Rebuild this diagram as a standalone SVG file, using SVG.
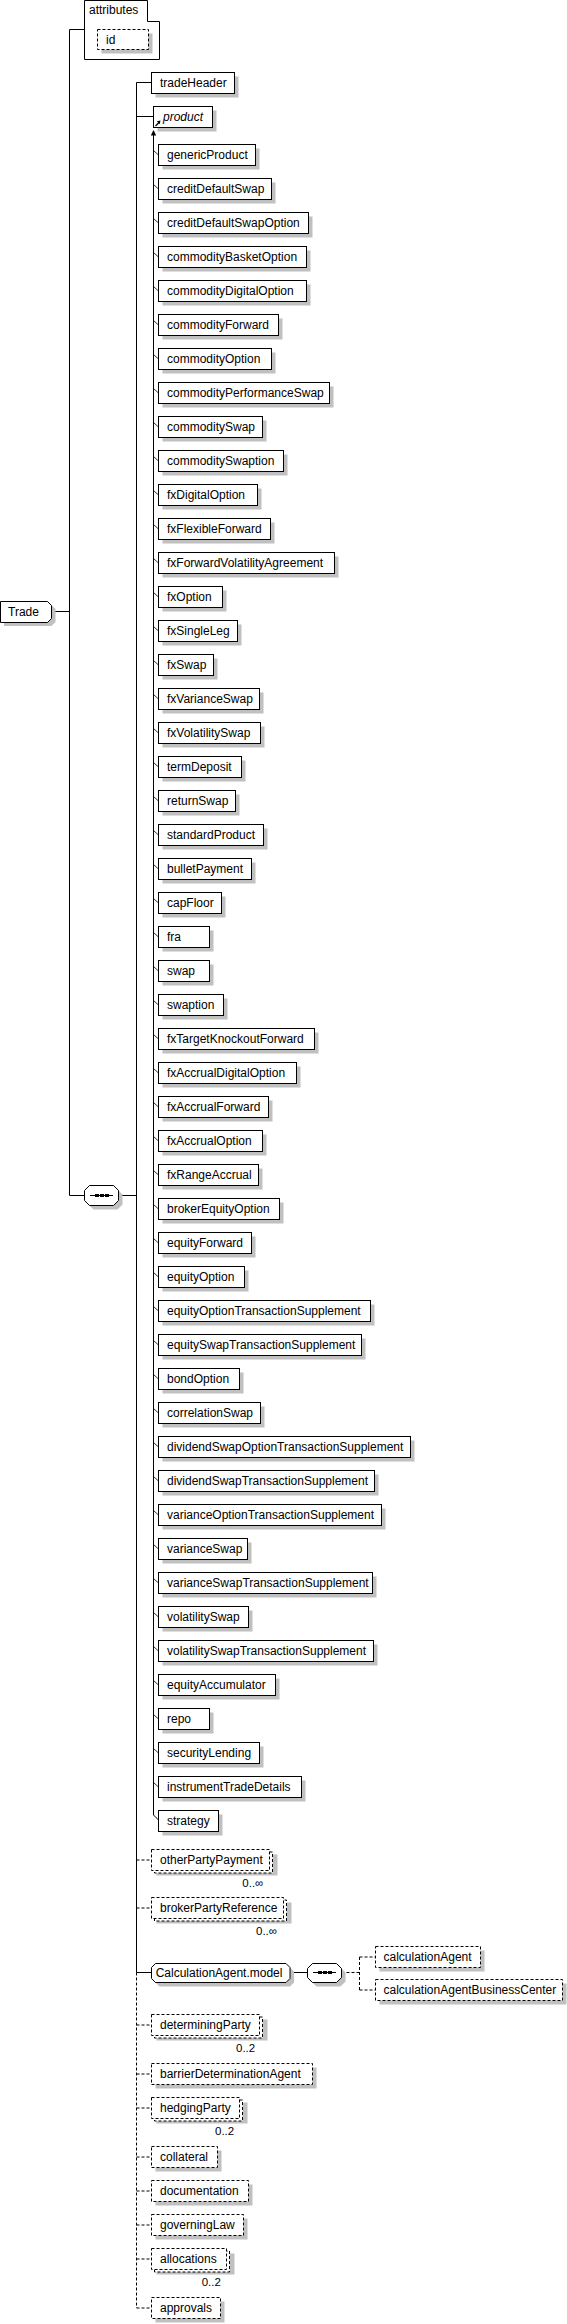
<svg xmlns="http://www.w3.org/2000/svg" width="567" height="2324" viewBox="0 0 567 2324">
<style>
.sh{fill:#c0c0c0;stroke:none}
.bx{fill:#fff;stroke:#000;stroke-width:1}
.op{fill:#fff;stroke:#000;stroke-width:1;stroke-dasharray:3,2}
.t{font-family:"Liberation Sans",Arial,sans-serif;font-size:12px;fill:#000}
.m{font-family:"Liberation Sans",Arial,sans-serif;font-size:11.5px;fill:#000}
.ln{fill:none;stroke:#000;stroke-width:1}
.dl{fill:none;stroke:#000;stroke-width:1;stroke-dasharray:3,2}
.tk{fill:none;stroke:#000;stroke-width:0.8}
</style>
<g id="connectors">
<path class="ln" d="M51.5,611.5 H69.5 M69.5,29.5 V1195.5 M69.5,29.5 H84.5 M69.5,1195.5 H84.5 M118.5,1195.5 H136.5"/>
<path class="ln" d="M136.5,82.5 V1972.5 M136.5,82.5 H151.5 M136.5,116.5 H153.5 M136.5,1972.5 H151.5 M290,1972.5 H307.5"/>
<path class="dl" d="M136.5,1972.5 V2308 M136.5,1860 H151.5 M136.5,1908 H151.5 M136.5,2025 H151.5 M136.5,2074 H151.5 M136.5,2108 H151.5 M136.5,2157 H151.5 M136.5,2191 H151.5 M136.5,2225 H151.5 M136.5,2259 H151.5 M136.5,2308 H151.5"/>
<path class="dl" d="M341.5,1972.5 H359.5 M359.5,1957 V1990 M359.5,1957 H375.5 M359.5,1990 H375.5"/>
<path class="ln" d="M153.5,133 V1815 L158.5,1820"/>
<polygon points="153.5,130 150.8,135.5 156.2,135.5" fill="#000"/>
<path class="tk" d="M153.5,150.5 l5,4.5 M153.5,184.5 l5,4.5 M153.5,218.5 l5,4.5 M153.5,252.5 l5,4.5 M153.5,286.5 l5,4.5 M153.5,320.5 l5,4.5 M153.5,354.5 l5,4.5 M153.5,388.5 l5,4.5 M153.5,422.5 l5,4.5 M153.5,456.5 l5,4.5 M153.5,490.5 l5,4.5 M153.5,524.5 l5,4.5 M153.5,558.5 l5,4.5 M153.5,592.5 l5,4.5 M153.5,626.5 l5,4.5 M153.5,660.5 l5,4.5 M153.5,694.5 l5,4.5 M153.5,728.5 l5,4.5 M153.5,762.5 l5,4.5 M153.5,796.5 l5,4.5 M153.5,830.5 l5,4.5 M153.5,864.5 l5,4.5 M153.5,898.5 l5,4.5 M153.5,932.5 l5,4.5 M153.5,966.5 l5,4.5 M153.5,1000.5 l5,4.5 M153.5,1034.5 l5,4.5 M153.5,1068.5 l5,4.5 M153.5,1102.5 l5,4.5 M153.5,1136.5 l5,4.5 M153.5,1170.5 l5,4.5 M153.5,1204.5 l5,4.5 M153.5,1238.5 l5,4.5 M153.5,1272.5 l5,4.5 M153.5,1306.5 l5,4.5 M153.5,1340.5 l5,4.5 M153.5,1374.5 l5,4.5 M153.5,1408.5 l5,4.5 M153.5,1442.5 l5,4.5 M153.5,1476.5 l5,4.5 M153.5,1510.5 l5,4.5 M153.5,1544.5 l5,4.5 M153.5,1578.5 l5,4.5 M153.5,1612.5 l5,4.5 M153.5,1646.5 l5,4.5 M153.5,1680.5 l5,4.5 M153.5,1714.5 l5,4.5 M153.5,1748.5 l5,4.5 M153.5,1782.5 l5,4.5"/>
</g>
<g id="Trade">
<path class="sh" d="M4,605 H51.5 L55.5,609 V622 L51.5,626 H4 Z"/>
<path class="bx" d="M0.5,601.5 H47.5 L51.5,605.5 V618.5 L47.5,622.5 H0.5 Z"/>
<text class="t" x="8" y="616">Trade</text>
</g>
<g id="attributes">
<path class="bx" d="M84.5,0.5 H147.5 V21.5 H159.5 V59.5 H84.5 Z"/>
<text class="t" x="89" y="14">attributes</text>
</g>
<g id="id">
<rect class="sh" x="101.5" y="33.5" width="51" height="20"/>
<rect class="op" x="97.5" y="29.5" width="51" height="20"/>
<text class="t" x="106" y="43.5">id</text>
</g>
<g id="sequence1">
<path class="sh" d="M93.5,1189.5 H117.5 L122.5,1194.5 V1204.5 L117.5,1209.5 H93.5 L88.5,1204.5 V1194.5 Z"/>
<path class="bx" d="M89.5,1185.5 H113.5 L118.5,1190.5 V1200.5 L113.5,1205.5 H89.5 L84.5,1200.5 V1190.5 Z"/>
<path class="ln" d="M90,1195.5 H113"/>
<rect x="95" y="1194" width="4" height="3" fill="#000"/>
<rect x="100" y="1194" width="4" height="3" fill="#000"/>
<rect x="105" y="1194" width="4" height="3" fill="#000"/>
</g>
<g id="tradeHeader">
<rect class="sh" x="155.5" y="76.5" width="83" height="21"/>
<rect class="bx" x="151.5" y="72.5" width="83" height="21"/>
<text class="t" x="160" y="86.5">tradeHeader</text>
</g>
<g id="product">
<rect class="sh" x="157.5" y="110.5" width="59" height="21"/>
<rect class="bx" x="153.5" y="106.5" width="59" height="21"/>
<text class="t" x="163" y="120.5" font-style="italic" fill="#222">product</text>
<path d="M155.5,126 L159,122.5" stroke="#000" stroke-width="1.2"/>
<polygon points="160.5,120.5 156.8,121.3 159.7,124.2" fill="#000"/>
</g>
<g id="genericProduct"><rect class="sh" x="162.5" y="148.5" width="97" height="21"/><rect class="bx" x="158.5" y="144.5" width="97" height="21"/><text class="t" x="167" y="159">genericProduct</text></g>
<g id="creditDefaultSwap"><rect class="sh" x="162.5" y="182.5" width="113" height="21"/><rect class="bx" x="158.5" y="178.5" width="113" height="21"/><text class="t" x="167" y="193">creditDefaultSwap</text></g>
<g id="creditDefaultSwapOption"><rect class="sh" x="162.5" y="216.5" width="150" height="21"/><rect class="bx" x="158.5" y="212.5" width="150" height="21"/><text class="t" x="167" y="227">creditDefaultSwapOption</text></g>
<g id="commodityBasketOption"><rect class="sh" x="162.5" y="250.5" width="148" height="21"/><rect class="bx" x="158.5" y="246.5" width="148" height="21"/><text class="t" x="167" y="261">commodityBasketOption</text></g>
<g id="commodityDigitalOption"><rect class="sh" x="162.5" y="284.5" width="148" height="21"/><rect class="bx" x="158.5" y="280.5" width="148" height="21"/><text class="t" x="167" y="295">commodityDigitalOption</text></g>
<g id="commodityForward"><rect class="sh" x="162.5" y="318.5" width="120" height="21"/><rect class="bx" x="158.5" y="314.5" width="120" height="21"/><text class="t" x="167" y="329">commodityForward</text></g>
<g id="commodityOption"><rect class="sh" x="162.5" y="352.5" width="113" height="21"/><rect class="bx" x="158.5" y="348.5" width="113" height="21"/><text class="t" x="167" y="363">commodityOption</text></g>
<g id="commodityPerformanceSwap"><rect class="sh" x="162.5" y="386.5" width="171" height="21"/><rect class="bx" x="158.5" y="382.5" width="171" height="21"/><text class="t" x="167" y="397">commodityPerformanceSwap</text></g>
<g id="commoditySwap"><rect class="sh" x="162.5" y="420.5" width="104" height="21"/><rect class="bx" x="158.5" y="416.5" width="104" height="21"/><text class="t" x="167" y="431">commoditySwap</text></g>
<g id="commoditySwaption"><rect class="sh" x="162.5" y="454.5" width="125" height="21"/><rect class="bx" x="158.5" y="450.5" width="125" height="21"/><text class="t" x="167" y="465">commoditySwaption</text></g>
<g id="fxDigitalOption"><rect class="sh" x="162.5" y="488.5" width="99" height="21"/><rect class="bx" x="158.5" y="484.5" width="99" height="21"/><text class="t" x="167" y="499">fxDigitalOption</text></g>
<g id="fxFlexibleForward"><rect class="sh" x="162.5" y="522.5" width="112" height="21"/><rect class="bx" x="158.5" y="518.5" width="112" height="21"/><text class="t" x="167" y="533">fxFlexibleForward</text></g>
<g id="fxForwardVolatilityAgreement"><rect class="sh" x="162.5" y="556.5" width="176" height="21"/><rect class="bx" x="158.5" y="552.5" width="176" height="21"/><text class="t" x="167" y="567">fxForwardVolatilityAgreement</text></g>
<g id="fxOption"><rect class="sh" x="162.5" y="590.5" width="64" height="21"/><rect class="bx" x="158.5" y="586.5" width="64" height="21"/><text class="t" x="167" y="601">fxOption</text></g>
<g id="fxSingleLeg"><rect class="sh" x="162.5" y="624.5" width="79" height="21"/><rect class="bx" x="158.5" y="620.5" width="79" height="21"/><text class="t" x="167" y="635">fxSingleLeg</text></g>
<g id="fxSwap"><rect class="sh" x="162.5" y="658.5" width="55" height="21"/><rect class="bx" x="158.5" y="654.5" width="55" height="21"/><text class="t" x="167" y="669">fxSwap</text></g>
<g id="fxVarianceSwap"><rect class="sh" x="162.5" y="692.5" width="101" height="21"/><rect class="bx" x="158.5" y="688.5" width="101" height="21"/><text class="t" x="167" y="703">fxVarianceSwap</text></g>
<g id="fxVolatilitySwap"><rect class="sh" x="162.5" y="726.5" width="102" height="21"/><rect class="bx" x="158.5" y="722.5" width="102" height="21"/><text class="t" x="167" y="737">fxVolatilitySwap</text></g>
<g id="termDeposit"><rect class="sh" x="162.5" y="760.5" width="83" height="21"/><rect class="bx" x="158.5" y="756.5" width="83" height="21"/><text class="t" x="167" y="771">termDeposit</text></g>
<g id="returnSwap"><rect class="sh" x="162.5" y="794.5" width="77" height="21"/><rect class="bx" x="158.5" y="790.5" width="77" height="21"/><text class="t" x="167" y="805">returnSwap</text></g>
<g id="standardProduct"><rect class="sh" x="162.5" y="828.5" width="105" height="21"/><rect class="bx" x="158.5" y="824.5" width="105" height="21"/><text class="t" x="167" y="839">standardProduct</text></g>
<g id="bulletPayment"><rect class="sh" x="162.5" y="862.5" width="93" height="21"/><rect class="bx" x="158.5" y="858.5" width="93" height="21"/><text class="t" x="167" y="873">bulletPayment</text></g>
<g id="capFloor"><rect class="sh" x="162.5" y="896.5" width="63" height="21"/><rect class="bx" x="158.5" y="892.5" width="63" height="21"/><text class="t" x="167" y="907">capFloor</text></g>
<g id="fra"><rect class="sh" x="162.5" y="930.5" width="51" height="21"/><rect class="bx" x="158.5" y="926.5" width="51" height="21"/><text class="t" x="167" y="941">fra</text></g>
<g id="swap"><rect class="sh" x="162.5" y="964.5" width="51" height="21"/><rect class="bx" x="158.5" y="960.5" width="51" height="21"/><text class="t" x="167" y="975">swap</text></g>
<g id="swaption"><rect class="sh" x="162.5" y="998.5" width="65" height="21"/><rect class="bx" x="158.5" y="994.5" width="65" height="21"/><text class="t" x="167" y="1009">swaption</text></g>
<g id="fxTargetKnockoutForward"><rect class="sh" x="162.5" y="1032.5" width="156" height="21"/><rect class="bx" x="158.5" y="1028.5" width="156" height="21"/><text class="t" x="167" y="1043">fxTargetKnockoutForward</text></g>
<g id="fxAccrualDigitalOption"><rect class="sh" x="162.5" y="1066.5" width="138" height="21"/><rect class="bx" x="158.5" y="1062.5" width="138" height="21"/><text class="t" x="167" y="1077">fxAccrualDigitalOption</text></g>
<g id="fxAccrualForward"><rect class="sh" x="162.5" y="1100.5" width="110" height="21"/><rect class="bx" x="158.5" y="1096.5" width="110" height="21"/><text class="t" x="167" y="1111">fxAccrualForward</text></g>
<g id="fxAccrualOption"><rect class="sh" x="162.5" y="1134.5" width="104" height="21"/><rect class="bx" x="158.5" y="1130.5" width="104" height="21"/><text class="t" x="167" y="1145">fxAccrualOption</text></g>
<g id="fxRangeAccrual"><rect class="sh" x="162.5" y="1168.5" width="100" height="21"/><rect class="bx" x="158.5" y="1164.5" width="100" height="21"/><text class="t" x="167" y="1179">fxRangeAccrual</text></g>
<g id="brokerEquityOption"><rect class="sh" x="162.5" y="1202.5" width="121" height="21"/><rect class="bx" x="158.5" y="1198.5" width="121" height="21"/><text class="t" x="167" y="1213">brokerEquityOption</text></g>
<g id="equityForward"><rect class="sh" x="162.5" y="1236.5" width="93" height="21"/><rect class="bx" x="158.5" y="1232.5" width="93" height="21"/><text class="t" x="167" y="1247">equityForward</text></g>
<g id="equityOption"><rect class="sh" x="162.5" y="1270.5" width="86" height="21"/><rect class="bx" x="158.5" y="1266.5" width="86" height="21"/><text class="t" x="167" y="1281">equityOption</text></g>
<g id="equityOptionTransactionSupplement"><rect class="sh" x="162.5" y="1304.5" width="212" height="21"/><rect class="bx" x="158.5" y="1300.5" width="212" height="21"/><text class="t" x="167" y="1315">equityOptionTransactionSupplement</text></g>
<g id="equitySwapTransactionSupplement"><rect class="sh" x="162.5" y="1338.5" width="203" height="21"/><rect class="bx" x="158.5" y="1334.5" width="203" height="21"/><text class="t" x="167" y="1349">equitySwapTransactionSupplement</text></g>
<g id="bondOption"><rect class="sh" x="162.5" y="1372.5" width="81" height="21"/><rect class="bx" x="158.5" y="1368.5" width="81" height="21"/><text class="t" x="167" y="1383">bondOption</text></g>
<g id="correlationSwap"><rect class="sh" x="162.5" y="1406.5" width="102" height="21"/><rect class="bx" x="158.5" y="1402.5" width="102" height="21"/><text class="t" x="167" y="1417">correlationSwap</text></g>
<g id="dividendSwapOptionTransactionSupplement"><rect class="sh" x="162.5" y="1440.5" width="252" height="21"/><rect class="bx" x="158.5" y="1436.5" width="252" height="21"/><text class="t" x="167" y="1451">dividendSwapOptionTransactionSupplement</text></g>
<g id="dividendSwapTransactionSupplement"><rect class="sh" x="162.5" y="1474.5" width="216" height="21"/><rect class="bx" x="158.5" y="1470.5" width="216" height="21"/><text class="t" x="167" y="1485">dividendSwapTransactionSupplement</text></g>
<g id="varianceOptionTransactionSupplement"><rect class="sh" x="162.5" y="1508.5" width="223" height="21"/><rect class="bx" x="158.5" y="1504.5" width="223" height="21"/><text class="t" x="167" y="1519">varianceOptionTransactionSupplement</text></g>
<g id="varianceSwap"><rect class="sh" x="162.5" y="1542.5" width="89" height="21"/><rect class="bx" x="158.5" y="1538.5" width="89" height="21"/><text class="t" x="167" y="1553">varianceSwap</text></g>
<g id="varianceSwapTransactionSupplement"><rect class="sh" x="162.5" y="1576.5" width="214" height="21"/><rect class="bx" x="158.5" y="1572.5" width="214" height="21"/><text class="t" x="167" y="1587">varianceSwapTransactionSupplement</text></g>
<g id="volatilitySwap"><rect class="sh" x="162.5" y="1610.5" width="90" height="21"/><rect class="bx" x="158.5" y="1606.5" width="90" height="21"/><text class="t" x="167" y="1621">volatilitySwap</text></g>
<g id="volatilitySwapTransactionSupplement"><rect class="sh" x="162.5" y="1644.5" width="215" height="21"/><rect class="bx" x="158.5" y="1640.5" width="215" height="21"/><text class="t" x="167" y="1655">volatilitySwapTransactionSupplement</text></g>
<g id="equityAccumulator"><rect class="sh" x="162.5" y="1678.5" width="117" height="21"/><rect class="bx" x="158.5" y="1674.5" width="117" height="21"/><text class="t" x="167" y="1689">equityAccumulator</text></g>
<g id="repo"><rect class="sh" x="162.5" y="1712.5" width="51" height="21"/><rect class="bx" x="158.5" y="1708.5" width="51" height="21"/><text class="t" x="167" y="1723">repo</text></g>
<g id="securityLending"><rect class="sh" x="162.5" y="1746.5" width="101" height="21"/><rect class="bx" x="158.5" y="1742.5" width="101" height="21"/><text class="t" x="167" y="1757">securityLending</text></g>
<g id="instrumentTradeDetails"><rect class="sh" x="162.5" y="1780.5" width="143" height="21"/><rect class="bx" x="158.5" y="1776.5" width="143" height="21"/><text class="t" x="167" y="1791">instrumentTradeDetails</text></g>
<g id="strategy"><rect class="sh" x="162.5" y="1814.5" width="60" height="21"/><rect class="bx" x="158.5" y="1810.5" width="60" height="21"/><text class="t" x="167" y="1825">strategy</text></g>
<g id="otherPartyPayment"><rect class="sh" x="156.5" y="1854.5" width="121" height="21"/><rect class="op" x="154.5" y="1852" width="118" height="21"/><rect class="op" x="151.5" y="1849.5" width="118" height="21"/><text class="t" x="160" y="1864">otherPartyPayment</text><text class="m" x="242.3" y="1886.5">0..∞</text></g>
<g id="brokerPartyReference"><rect class="sh" x="156.5" y="1902.5" width="135" height="21"/><rect class="op" x="154.5" y="1900" width="132" height="21"/><rect class="op" x="151.5" y="1897.5" width="132" height="21"/><text class="t" x="160" y="1912">brokerPartyReference</text><text class="m" x="256" y="1934.5">0..∞</text></g>
<g id="CalculationAgent.model"><path class="sh" d="M159.5,1967.5 H290 L294,1971.5 V1982.5 L290,1986.5 H159.5 L155.5,1982.5 V1971.5 Z"/><path class="bx" d="M155.5,1963.5 H286 L290,1967.5 V1978.5 L286,1982.5 H155.5 L151.5,1978.5 V1967.5 Z"/><text class="t" x="155.7" y="1977">CalculationAgent.model</text></g>
<g id="sequence2"><path class="sh" d="M316.5,1967.5 H340.5 L345.5,1972.5 V1981.5 L340.5,1986.5 H316.5 L311.5,1981.5 V1972.5 Z"/><path class="bx" d="M312.5,1963.5 H336.5 L341.5,1968.5 V1977.5 L336.5,1982.5 H312.5 L307.5,1977.5 V1968.5 Z"/><path class="ln" d="M313,1972.5 H336"/><rect x="318" y="1971" width="4" height="3" fill="#000"/><rect x="323" y="1971" width="4" height="3" fill="#000"/><rect x="328" y="1971" width="4" height="3" fill="#000"/></g>
<g id="calculationAgent"><rect class="sh" x="379.5" y="1950.5" width="105" height="21"/><rect class="op" x="375.5" y="1946.5" width="105" height="21"/><text class="t" x="383.5" y="1961">calculationAgent</text></g>
<g id="calculationAgentBusinessCenter"><rect class="sh" x="379.5" y="1983.5" width="187" height="21"/><rect class="op" x="375.5" y="1979.5" width="187" height="21"/><text class="t" x="383.5" y="1994">calculationAgentBusinessCenter</text></g>
<g id="determiningParty"><rect class="sh" x="156.5" y="2019.5" width="111" height="21"/><rect class="op" x="154.5" y="2017" width="108" height="21"/><rect class="op" x="151.5" y="2014.5" width="108" height="21"/><text class="t" x="160" y="2029">determiningParty</text><text class="m" x="236" y="2051.5">0..2</text></g>
<g id="barrierDeterminationAgent"><rect class="sh" x="155.5" y="2067.5" width="161" height="21"/><rect class="op" x="151.5" y="2063.5" width="161" height="21"/><text class="t" x="160" y="2078">barrierDeterminationAgent</text></g>
<g id="hedgingParty"><rect class="sh" x="156.5" y="2102.5" width="91" height="21"/><rect class="op" x="154.5" y="2100" width="88" height="21"/><rect class="op" x="151.5" y="2097.5" width="88" height="21"/><text class="t" x="160" y="2112">hedgingParty</text><text class="m" x="215" y="2134.5">0..2</text></g>
<g id="collateral"><rect class="sh" x="155.5" y="2150.5" width="66" height="21"/><rect class="op" x="151.5" y="2146.5" width="66" height="21"/><text class="t" x="160" y="2161">collateral</text></g>
<g id="documentation"><rect class="sh" x="155.5" y="2184.5" width="97" height="21"/><rect class="op" x="151.5" y="2180.5" width="97" height="21"/><text class="t" x="160" y="2195">documentation</text></g>
<g id="governingLaw"><rect class="sh" x="155.5" y="2218.5" width="92" height="21"/><rect class="op" x="151.5" y="2214.5" width="92" height="21"/><text class="t" x="160" y="2229">governingLaw</text></g>
<g id="allocations"><rect class="sh" x="156.5" y="2253.5" width="78" height="21"/><rect class="op" x="154.5" y="2251" width="75" height="21"/><rect class="op" x="151.5" y="2248.5" width="75" height="21"/><text class="t" x="160" y="2263">allocations</text><text class="m" x="201.7" y="2285.5">0..2</text></g>
<g id="approvals"><rect class="sh" x="155.5" y="2301.5" width="69" height="21"/><rect class="op" x="151.5" y="2297.5" width="69" height="21"/><text class="t" x="160" y="2312">approvals</text></g>
</svg>
